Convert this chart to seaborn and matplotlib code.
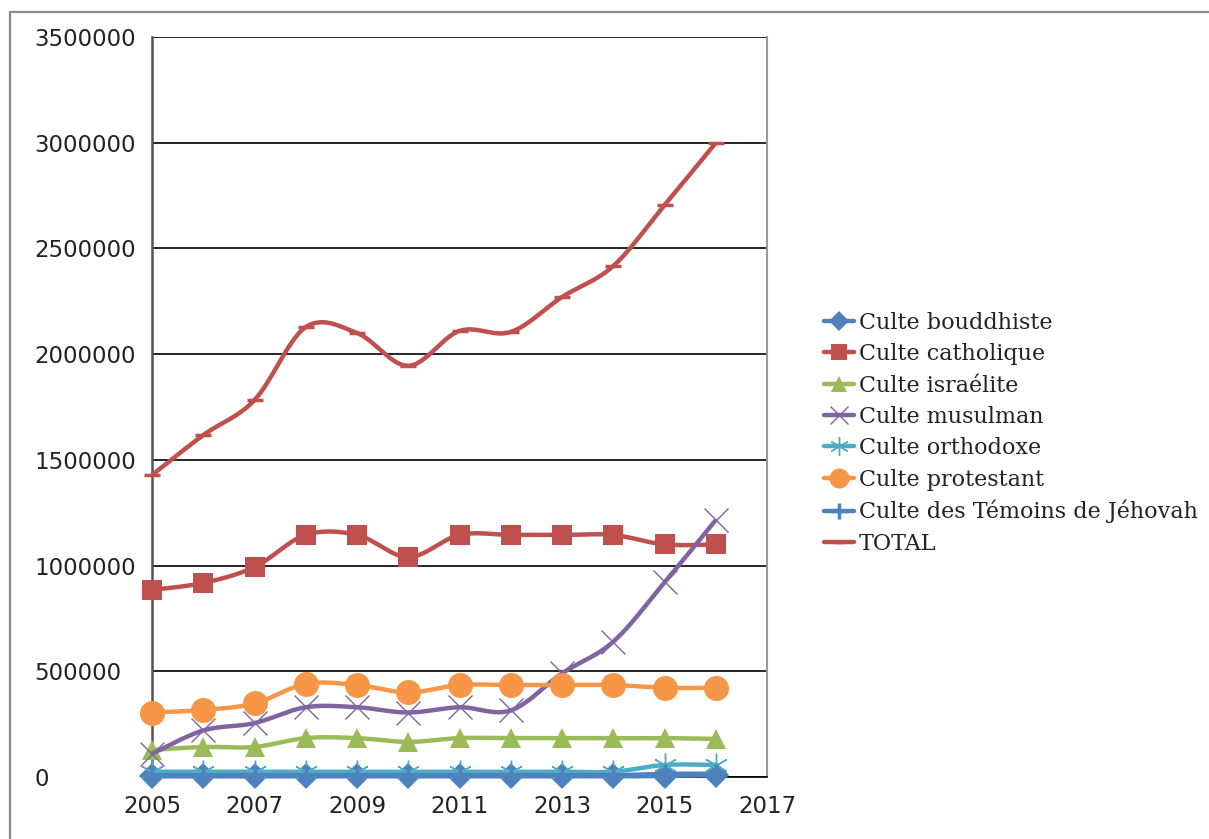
import numpy as np
import pandas as pd
import matplotlib
matplotlib.use("Agg")
import matplotlib.pyplot as plt
from matplotlib.lines import Line2D
import seaborn as sns

years = [2005, 2006, 2007, 2008, 2009, 2010, 2011, 2012, 2013, 2014, 2015, 2016]

bouddhiste = [3000, 3000, 3000, 3000, 3000, 3000, 3000, 3000, 3000, 3000, 5000, 10000]
catholique = [885000, 918000, 993000, 1145000, 1145000, 1040000, 1145000, 1145000, 1145000, 1145000, 1100000, 1100000]
israelite = [128000, 142000, 142000, 184000, 184000, 166000, 184000, 184000, 184000, 184000, 184000, 180000]
musulman = [110000, 220000, 255000, 330000, 330000, 305000, 330000, 315000, 490000, 640000, 920000, 1215000]
orthodoxe = [25000, 25000, 25000, 25000, 25000, 25000, 25000, 25000, 25000, 25000, 57000, 57000]
protestant = [305000, 317000, 348000, 440000, 435000, 400000, 435000, 435000, 435000, 435000, 422000, 422000]
temoins = [8000, 8000, 8000, 8000, 8000, 8000, 8000, 8000, 8000, 8000, 15000, 15000]
total = [1428000, 1617000, 1783000, 2128000, 2100000, 1945000, 2110000, 2105000, 2270000, 2417000, 2705000, 2999000]

series_names = ["Culte bouddhiste", "Culte catholique", "Culte israélite", "Culte musulman",
                "Culte orthodoxe", "Culte protestant", "Culte des Témoins de Jéhovah", "TOTAL"]
series_values = [bouddhiste, catholique, israelite, musulman, orthodoxe, protestant, temoins, total]

colors = ["#4F81BD", "#C0504D", "#9BBB59", "#8064A2", "#4BACC6", "#F79646", "#4F81BD", "#C0504D"]
markers = ["D", "s", "^", "x", (6, 2, 0), "o", "+", "_"]
msizes = [13, 15, 15, 17, 17, 18, 15, 11]
mews = [1, 1, 1, 1.0, 1.0, 1, 2.5, 2.5]

y_ticks = [0, 500000, 1000000, 1500000, 2000000, 2500000, 3000000, 3500000]
x_ticks = [2005, 2007, 2009, 2011, 2013, 2015, 2017]


def smooth(xs, ys, n=30):
    xs = np.asarray(xs, float)
    ys = np.asarray(ys, float)
    P = np.column_stack([xs, ys])
    out = []
    m = len(P)
    for i in range(m - 1):
        p0 = P[i - 1] if i > 0 else P[i]
        p1 = P[i]
        p2 = P[i + 1]
        p3 = P[i + 2] if i + 2 < m else P[i + 1]
        c1 = p1 + (p2 - p0) / 6.0
        c2 = p2 - (p3 - p1) / 6.0
        t = np.linspace(0, 1, n, endpoint=(i == m - 2))[:, None]
        b = ((1 - t) ** 3) * p1 + 3 * ((1 - t) ** 2) * t * c1 + 3 * (1 - t) * t ** 2 * c2 + t ** 3 * p2
        out.append(b)
    out = np.vstack(out)
    return out[:, 0], out[:, 1]


sns.set_style("white")
plt.rcParams["font.family"] = ["DejaVu Sans"]

fig = plt.figure(figsize=(12.09, 8.39), dpi=100)
ax = fig.add_axes([152 / 1209, 1 - 777 / 839, (767 - 152) / 1209, (777 - 37) / 839])

for k, (name, vals) in enumerate(zip(series_names, series_values)):
    sx, sy = smooth(years, vals)
    dense = pd.DataFrame({"x": sx, "y": sy})
    sns.lineplot(data=dense, x="x", y="y", ax=ax, color=colors[k], linewidth=3.2,
                 sort=False, estimator=None, zorder=3 + k * 0.1, solid_capstyle="butt",
                 clip_on=False)
    pts = pd.DataFrame({"x": years, "y": vals})
    mk = markers[k]
    if mk in ("x", "+", "_") or isinstance(mk, tuple):
        ax.plot(pts["x"], pts["y"], linestyle="none", marker=mk, markersize=msizes[k],
                markeredgecolor=colors[k], markeredgewidth=mews[k], color=colors[k],
                zorder=3.05 + k * 0.1, clip_on=False)
    else:
        ax.plot(pts["x"], pts["y"], linestyle="none", marker=mk, markersize=msizes[k],
                markerfacecolor=colors[k], markeredgecolor=colors[k], markeredgewidth=0,
                zorder=3.05 + k * 0.1, clip_on=False)

ax.set_xlim(2005, 2017)
ax.set_ylim(0, 3500000)
ax.set_xticks(x_ticks)
ax.set_yticks(y_ticks)
ax.set_xticklabels([str(v) for v in x_ticks])
ax.set_yticklabels([str(v) for v in y_ticks])
ax.set_xlabel("")
ax.set_ylabel("")
ax.yaxis.grid(True, color="black", linewidth=1.2, zorder=1)
ax.xaxis.grid(False)
ax.set_axisbelow(True)
for side in ["left", "bottom"]:
    ax.spines[side].set_visible(True)
    ax.spines[side].set_color("#555555")
    ax.spines[side].set_linewidth(1.8)
ax.spines["bottom"].set_color("black")
ax.spines["bottom"].set_linewidth(1.2)
ax.spines["top"].set_visible(False)
ax.spines["right"].set_visible(True)
ax.spines["right"].set_color("#999999")
ax.spines["right"].set_linewidth(1.5)
ax.tick_params(axis="both", which="both", direction="out", length=6, width=1.2,
               color="#333333", labelsize=16.5, labelcolor="#222222")
ax.tick_params(axis="x", pad=7)
ax.tick_params(axis="y", pad=78.5)
for lab in ax.get_yticklabels():
    lab.set_horizontalalignment("left")

handles = []
for k, name in enumerate(series_names):
    mk = markers[k]
    if mk in ("x", "+", "_") or isinstance(mk, tuple):
        h = Line2D([], [], color=colors[k], linewidth=3.2, marker=mk, markersize=msizes[k] * 0.8,
                   markeredgecolor=colors[k], markeredgewidth=mews[k])
    else:
        h = Line2D([], [], color=colors[k], linewidth=3.2, marker=mk, markersize=msizes[k] * 0.8,
                   markerfacecolor=colors[k], markeredgewidth=0)
    handles.append(h)

leg = fig.legend(handles, series_names, loc="upper left",
                 bbox_to_anchor=(815 / 1209, 1 - 303 / 839), frameon=False,
                 prop={"family": "DejaVu Serif", "size": 16},
                 handlelength=1.35, handletextpad=0.22, labelspacing=0.42, borderaxespad=0)
for t in leg.get_texts():
    t.set_color("#222222")

fig.add_artist(Line2D([10 / 1209, 10 / 1209], [0, 1 - 12 / 839], transform=fig.transFigure,
                      color="#8a8a8a", linewidth=1.6))
fig.add_artist(Line2D([10 / 1209, 1], [1 - 12 / 839, 1 - 12 / 839], transform=fig.transFigure,
                      color="#8a8a8a", linewidth=1.6))

fig.savefig("out.png", dpi=100)
